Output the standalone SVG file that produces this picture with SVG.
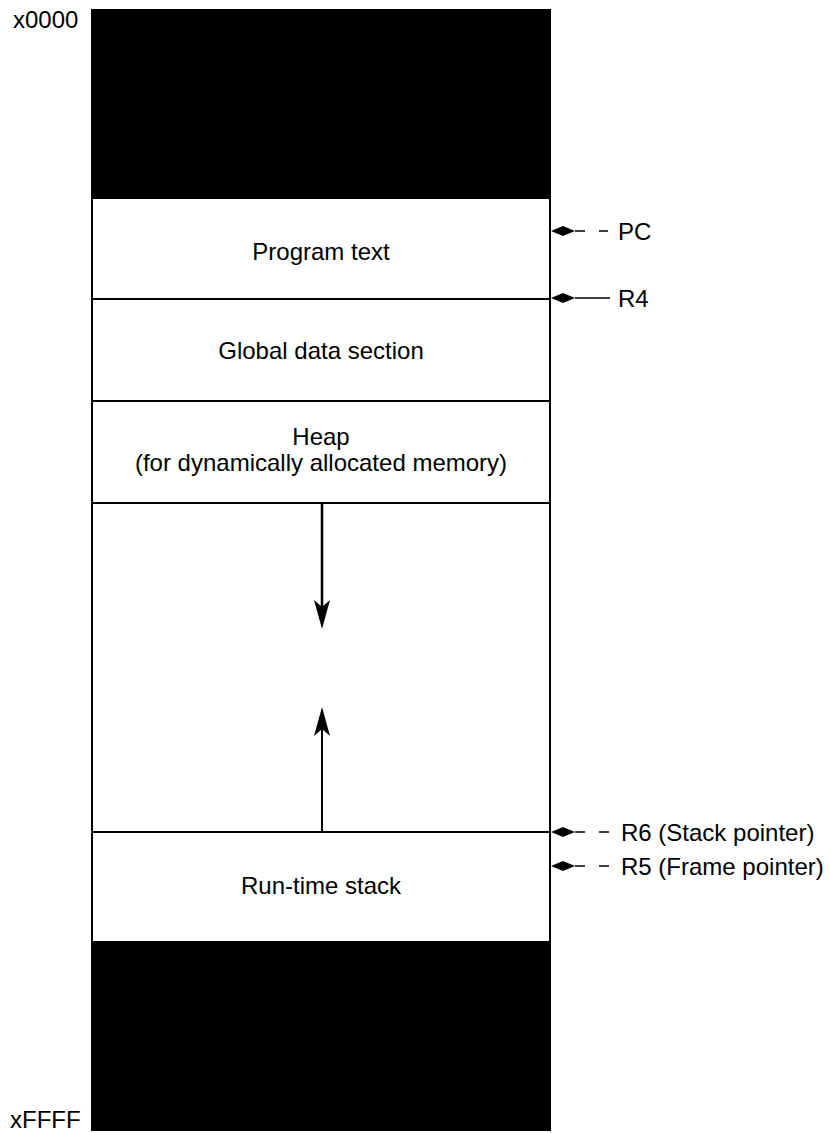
<svg xmlns="http://www.w3.org/2000/svg" width="830" height="1133" viewBox="0 0 830 1133">
<defs>
<style>
.t{font-family:"Liberation Sans",Arial,sans-serif;font-size:24px;fill:#000}
.c{text-anchor:middle}
.ln{stroke:#000;stroke-width:2;fill:none}
.ptr{stroke:#000;stroke-width:1.5;fill:none;stroke-dasharray:10 14}
.dia{fill:#000}
</style>
</defs>
<rect width="830" height="1133" fill="#fff"/>
<text class="t" x="13" y="28">x0000</text>
<text class="t" x="10" y="1128">xFFFF</text>
<g id="top-reserved"><rect x="91" y="9" width="460" height="190" fill="#000"/></g>
<g id="program-text"><rect x="92" y="198" width="458" height="101" class="ln" fill="#fff"/><text class="t c" x="321" y="260">Program text</text></g>
<g id="global-data"><rect x="92" y="299" width="458" height="102" class="ln" fill="#fff"/><text class="t c" x="321" y="359">Global data section</text></g>
<g id="heap"><rect x="92" y="401" width="458" height="102" class="ln" fill="#fff"/><text class="t c" x="321" y="445">Heap</text><text class="t c" x="321" y="471">(for dynamically allocated memory)</text></g>
<g id="free"><rect x="92" y="503" width="458" height="329" class="ln" fill="#fff"/></g>
<g id="stack"><rect x="92" y="832" width="458" height="110" class="ln" fill="#fff"/><text class="t c" x="321" y="894">Run-time stack</text></g>
<g id="bottom-reserved"><rect x="91" y="942" width="460" height="189" fill="#000"/></g>
<g id="connectors">
<line x1="322" y1="503" x2="322" y2="610" stroke="#000" stroke-width="2.5"/>
<path d="M322,629 L314,600 L322,607 L330,600 Z" fill="#000"/>
<line x1="322" y1="832" x2="322" y2="725" stroke="#000" stroke-width="2"/>
<path d="M322,707 L314,736 L322,729 L330,736 Z" fill="#000"/>
<path class="dia" d="M551,231 L563,226 L575,231 L563,236 Z"/><line x1="575" y1="231" x2="608" y2="231" class="ptr"/>
<path class="dia" d="M551,298 L563,293 L575,298 L563,303 Z"/><line x1="575" y1="298" x2="610" y2="298" stroke="#000" stroke-width="1.5"/>
<path class="dia" d="M551,832 L563,827 L575,832 L563,837 Z"/><line x1="575" y1="832" x2="610" y2="832" class="ptr"/>
<path class="dia" d="M551,866 L563,861 L575,866 L563,871 Z"/><line x1="575" y1="866" x2="610" y2="866" class="ptr"/>
</g>
<g id="labels">
<text class="t" x="618" y="240">PC</text>
<text class="t" x="618" y="307">R4</text>
<text class="t" x="621" y="841">R6 (Stack pointer)</text>
<text class="t" x="621" y="875">R5 (Frame pointer)</text>
</g>
</svg>
